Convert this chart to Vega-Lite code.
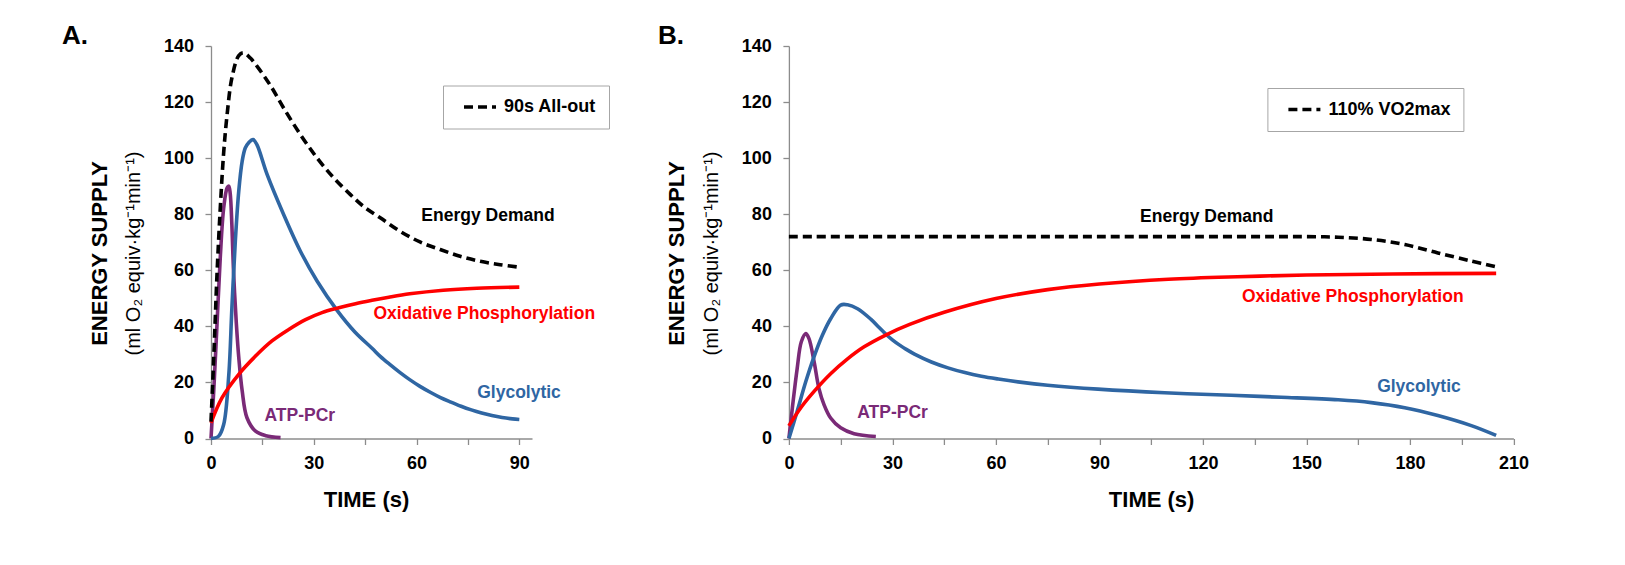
{
  "$schema": "https://vega.github.io/schema/vega-lite/v6.json",
  "background": "white",
  "padding": {"left": 62, "top": 22, "right": 10, "bottom": 10},
  "spacing": 47.9,
  "resolve": {"scale": {"strokeDash": "independent", "color": "shared"}, "legend": {"strokeDash": "independent"}},
  "config": {
    "view": {"stroke": null},
    "font": "Liberation Sans",
    "axis": {
      "labelFont": "Liberation Sans", "titleFont": "Liberation Sans",
      "domainColor": "#8c8c8c", "tickColor": "#8c8c8c", "domainWidth": 1.3, "tickWidth": 1.3,
      "grid": false, "labelColor": "black", "titleColor": "black",
      "labelFontWeight": "bold", "labelFontSize": 18, "tickSize": 6
    },
    "legend": {
      "labelFont": "Liberation Sans", "labelFontSize": 18, "labelFontWeight": "bold", "labelColor": "black",
      "strokeColor": "#a6a6a6", "fillColor": "white", "padding": 12.5, "clipHeight": 18, "symbolOffset": 6.5, "symbolType": "stroke",
      "symbolSize": 1024, "symbolStrokeWidth": 3.5, "symbolStrokeColor": "black", "labelOffset": 6, "orient": "none"
    },
    "title": {"font": "Liberation Sans", "fontSize": 26, "fontWeight": "bold", "color": "black", "anchor": "start", "frame": "group", "baseline": "alphabetic", "offset": -11.5}
  },
  "datasets": {
    "supplyA": [
      {"source": "ATP-PCr", "t": 0, "v": 0}, {"source": "ATP-PCr", "t": 0.8, "v": 17}, {"source": "ATP-PCr", "t": 1.75, "v": 40.6},
      {"source": "ATP-PCr", "t": 2.7, "v": 64.4}, {"source": "ATP-PCr", "t": 3.7, "v": 82.2}, {"source": "ATP-PCr", "t": 4.7, "v": 89.4},
      {"source": "ATP-PCr", "t": 5.2, "v": 90}, {"source": "ATP-PCr", "t": 5.6, "v": 87.5}, {"source": "ATP-PCr", "t": 6.1, "v": 76},
      {"source": "ATP-PCr", "t": 6.6, "v": 59}, {"source": "ATP-PCr", "t": 7.4, "v": 41}, {"source": "ATP-PCr", "t": 8.1, "v": 29},
      {"source": "ATP-PCr", "t": 9.1, "v": 17}, {"source": "ATP-PCr", "t": 10.5, "v": 7.4}, {"source": "ATP-PCr", "t": 13, "v": 2.6},
      {"source": "ATP-PCr", "t": 16, "v": 1}, {"source": "ATP-PCr", "t": 20.3, "v": 0.3},
      {"source": "Glycolytic", "t": 0, "v": 0}, {"source": "Glycolytic", "t": 2.2, "v": 0.8}, {"source": "Glycolytic", "t": 3.7, "v": 5},
      {"source": "Glycolytic", "t": 5.2, "v": 22.8}, {"source": "Glycolytic", "t": 6.1, "v": 46.6}, {"source": "Glycolytic", "t": 7.1, "v": 70.4},
      {"source": "Glycolytic", "t": 8.1, "v": 88.2}, {"source": "Glycolytic", "t": 9.1, "v": 98.9}, {"source": "Glycolytic", "t": 10, "v": 103.6},
      {"source": "Glycolytic", "t": 11, "v": 105.5}, {"source": "Glycolytic", "t": 12.3, "v": 106.6}, {"source": "Glycolytic", "t": 13.4, "v": 104.8},
      {"source": "Glycolytic", "t": 16.4, "v": 94.1}, {"source": "Glycolytic", "t": 21.2, "v": 79.9}, {"source": "Glycolytic", "t": 26.1, "v": 66.8},
      {"source": "Glycolytic", "t": 31, "v": 56.1}, {"source": "Glycolytic", "t": 36.8, "v": 45.7}, {"source": "Glycolytic", "t": 42, "v": 38},
      {"source": "Glycolytic", "t": 47, "v": 32.2}, {"source": "Glycolytic", "t": 49.4, "v": 29.3}, {"source": "Glycolytic", "t": 52, "v": 26.6},
      {"source": "Glycolytic", "t": 55.2, "v": 23.5}, {"source": "Glycolytic", "t": 58, "v": 21}, {"source": "Glycolytic", "t": 61, "v": 18.6},
      {"source": "Glycolytic", "t": 64, "v": 16.5}, {"source": "Glycolytic", "t": 67, "v": 14.6}, {"source": "Glycolytic", "t": 70, "v": 13},
      {"source": "Glycolytic", "t": 73, "v": 11.5}, {"source": "Glycolytic", "t": 76, "v": 10.2}, {"source": "Glycolytic", "t": 79, "v": 9.1},
      {"source": "Glycolytic", "t": 82, "v": 8.2}, {"source": "Glycolytic", "t": 85, "v": 7.5}, {"source": "Glycolytic", "t": 88, "v": 7},
      {"source": "Glycolytic", "t": 90, "v": 6.8},
      {"source": "Oxidative Phosphorylation", "t": 0, "v": 5.6}, {"source": "Oxidative Phosphorylation", "t": 3.2, "v": 14.5},
      {"source": "Oxidative Phosphorylation", "t": 8.1, "v": 22.9}, {"source": "Oxidative Phosphorylation", "t": 13, "v": 29.4},
      {"source": "Oxidative Phosphorylation", "t": 17.8, "v": 34.8}, {"source": "Oxidative Phosphorylation", "t": 22.7, "v": 38.9},
      {"source": "Oxidative Phosphorylation", "t": 27.6, "v": 42.4}, {"source": "Oxidative Phosphorylation", "t": 32.4, "v": 44.9},
      {"source": "Oxidative Phosphorylation", "t": 37.3, "v": 46.6}, {"source": "Oxidative Phosphorylation", "t": 42.2, "v": 48.1},
      {"source": "Oxidative Phosphorylation", "t": 47, "v": 49.3}, {"source": "Oxidative Phosphorylation", "t": 51.9, "v": 50.4},
      {"source": "Oxidative Phosphorylation", "t": 58, "v": 51.6}, {"source": "Oxidative Phosphorylation", "t": 67.8, "v": 52.9},
      {"source": "Oxidative Phosphorylation", "t": 77.6, "v": 53.6}, {"source": "Oxidative Phosphorylation", "t": 90, "v": 54}
    ],
    "demandA": [
      {"condition": "90s All-out", "t": 0, "v": 6}, {"condition": "90s All-out", "t": 0.8, "v": 28.8}, {"condition": "90s All-out", "t": 1.75, "v": 58.5},
      {"condition": "90s All-out", "t": 2.7, "v": 82}, {"condition": "90s All-out", "t": 3.7, "v": 102}, {"condition": "90s All-out", "t": 4.7, "v": 115.5},
      {"condition": "90s All-out", "t": 6.1, "v": 128.6}, {"condition": "90s All-out", "t": 8.1, "v": 136.6}, {"condition": "90s All-out", "t": 9.5, "v": 137.6},
      {"condition": "90s All-out", "t": 11.5, "v": 135.7}, {"condition": "90s All-out", "t": 13.9, "v": 132}, {"condition": "90s All-out", "t": 17.3, "v": 126},
      {"condition": "90s All-out", "t": 21.2, "v": 117.9}, {"condition": "90s All-out", "t": 26.1, "v": 108.4}, {"condition": "90s All-out", "t": 31, "v": 100},
      {"condition": "90s All-out", "t": 35.8, "v": 93}, {"condition": "90s All-out", "t": 40.7, "v": 87}, {"condition": "90s All-out", "t": 44.5, "v": 82.8},
      {"condition": "90s All-out", "t": 49.4, "v": 78.7}, {"condition": "90s All-out", "t": 55.2, "v": 73.9}, {"condition": "90s All-out", "t": 61, "v": 70.1},
      {"condition": "90s All-out", "t": 66.9, "v": 67.4}, {"condition": "90s All-out", "t": 72.7, "v": 65}, {"condition": "90s All-out", "t": 78.6, "v": 63.2},
      {"condition": "90s All-out", "t": 84.4, "v": 62}, {"condition": "90s All-out", "t": 90, "v": 61.1}
    ],
    "labelsA": [
      {"label": "Energy Demand", "t": 61.4, "v": 79.2},
      {"label": "Oxidative Phosphorylation", "t": 47.4, "v": 44.3},
      {"label": "Glycolytic", "t": 77.7, "v": 16.3},
      {"label": "ATP-PCr", "t": 15.6, "v": 8.1}
    ],
    "supplyB": [
      {"source": "ATP-PCr", "t": 0, "v": 0}, {"source": "ATP-PCr", "t": 1, "v": 10.9}, {"source": "ATP-PCr", "t": 2.4, "v": 25},
      {"source": "ATP-PCr", "t": 3.6, "v": 34.5}, {"source": "ATP-PCr", "t": 4.9, "v": 37.4}, {"source": "ATP-PCr", "t": 5.8, "v": 35.7},
      {"source": "ATP-PCr", "t": 7.3, "v": 27.4}, {"source": "ATP-PCr", "t": 8.7, "v": 17.9}, {"source": "ATP-PCr", "t": 10.2, "v": 12},
      {"source": "ATP-PCr", "t": 12.1, "v": 7.3}, {"source": "ATP-PCr", "t": 15, "v": 3.8}, {"source": "ATP-PCr", "t": 18.9, "v": 1.7},
      {"source": "ATP-PCr", "t": 25.2, "v": 0.7},
      {"source": "Glycolytic", "t": 0, "v": 0}, {"source": "Glycolytic", "t": 2.4, "v": 9.7}, {"source": "Glycolytic", "t": 4.9, "v": 20.3},
      {"source": "Glycolytic", "t": 7.3, "v": 29.2}, {"source": "Glycolytic", "t": 9.7, "v": 36.8}, {"source": "Glycolytic", "t": 12.1, "v": 42.7},
      {"source": "Glycolytic", "t": 15, "v": 47.6}, {"source": "Glycolytic", "t": 17, "v": 47.7}, {"source": "Glycolytic", "t": 19.9, "v": 46.3},
      {"source": "Glycolytic", "t": 23.8, "v": 42.5}, {"source": "Glycolytic", "t": 26, "v": 39.8}, {"source": "Glycolytic", "t": 28.2, "v": 37.1},
      {"source": "Glycolytic", "t": 30, "v": 35.2}, {"source": "Glycolytic", "t": 32, "v": 33.4}, {"source": "Glycolytic", "t": 34, "v": 31.8},
      {"source": "Glycolytic", "t": 36.4, "v": 30.1}, {"source": "Glycolytic", "t": 41.3, "v": 27.3}, {"source": "Glycolytic", "t": 46.1, "v": 25.2},
      {"source": "Glycolytic", "t": 51, "v": 23.5}, {"source": "Glycolytic", "t": 55.8, "v": 22.2}, {"source": "Glycolytic", "t": 60.7, "v": 21.2},
      {"source": "Glycolytic", "t": 67, "v": 20.1}, {"source": "Glycolytic", "t": 75, "v": 19}, {"source": "Glycolytic", "t": 89.6, "v": 17.6},
      {"source": "Glycolytic", "t": 108.9, "v": 16.3}, {"source": "Glycolytic", "t": 128.2, "v": 15.4}, {"source": "Glycolytic", "t": 142.7, "v": 14.7},
      {"source": "Glycolytic", "t": 159.2, "v": 13.8}, {"source": "Glycolytic", "t": 168.8, "v": 12.8}, {"source": "Glycolytic", "t": 178.5, "v": 11},
      {"source": "Glycolytic", "t": 188.1, "v": 8.2}, {"source": "Glycolytic", "t": 197.8, "v": 4.6}, {"source": "Glycolytic", "t": 205, "v": 1.1},
      {"source": "Oxidative Phosphorylation", "t": 0, "v": 4.5}, {"source": "Oxidative Phosphorylation", "t": 3.4, "v": 10.9},
      {"source": "Oxidative Phosphorylation", "t": 7.3, "v": 16.8}, {"source": "Oxidative Phosphorylation", "t": 12.1, "v": 23.1},
      {"source": "Oxidative Phosphorylation", "t": 17, "v": 28.4}, {"source": "Oxidative Phosphorylation", "t": 21.8, "v": 32.7},
      {"source": "Oxidative Phosphorylation", "t": 28.2, "v": 37}, {"source": "Oxidative Phosphorylation", "t": 35, "v": 40.7},
      {"source": "Oxidative Phosphorylation", "t": 45, "v": 45}, {"source": "Oxidative Phosphorylation", "t": 60, "v": 49.9},
      {"source": "Oxidative Phosphorylation", "t": 75, "v": 53.1}, {"source": "Oxidative Phosphorylation", "t": 90, "v": 55.1},
      {"source": "Oxidative Phosphorylation", "t": 110, "v": 56.8}, {"source": "Oxidative Phosphorylation", "t": 130, "v": 57.7},
      {"source": "Oxidative Phosphorylation", "t": 150, "v": 58.3}, {"source": "Oxidative Phosphorylation", "t": 175, "v": 58.7},
      {"source": "Oxidative Phosphorylation", "t": 205, "v": 58.9}
    ],
    "demandB": [
      {"condition": "110% VO2max", "t": 0, "v": 72}, {"condition": "110% VO2max", "t": 30, "v": 72}, {"condition": "110% VO2max", "t": 60, "v": 72},
      {"condition": "110% VO2max", "t": 90, "v": 72}, {"condition": "110% VO2max", "t": 120, "v": 72}, {"condition": "110% VO2max", "t": 139.8, "v": 72},
      {"condition": "110% VO2max", "t": 150, "v": 72}, {"condition": "110% VO2max", "t": 159.2, "v": 71.8}, {"condition": "110% VO2max", "t": 168.8, "v": 71},
      {"condition": "110% VO2max", "t": 178.5, "v": 69.2}, {"condition": "110% VO2max", "t": 188.1, "v": 66.2}, {"condition": "110% VO2max", "t": 197.8, "v": 63.3},
      {"condition": "110% VO2max", "t": 205, "v": 61.2}
    ],
    "labelsB": [
      {"label": "Energy Demand", "t": 101.8, "v": 79},
      {"label": "Oxidative Phosphorylation", "t": 131.3, "v": 50.3},
      {"label": "Glycolytic", "t": 170.5, "v": 18.5},
      {"label": "ATP-PCr", "t": 19.8, "v": 9.2}
    ]
  },
  "hconcat": [
    {
      "title": {"text": "A.", "dx": -149},
      "width": 321,
      "height": 392.5,
      "layer": [
        {
          "data": {"name": "supplyA"},
          "mark": {"type": "line", "strokeWidth": 3.6, "interpolate": "catmull-rom"},
          "encoding": {
            "x": {"field": "t", "type": "quantitative",
              "scale": {"domain": [0, 93.7], "nice": false, "zero": false},
              "axis": {"values": [0, 15, 30, 45, 60, 75, 90], "labelExpr": "datum.value % 30 === 0 ? datum.label : ''",
                "title": "TIME (s)", "titleFontSize": 22, "titleFontWeight": "bold", "titlePadding": 16.5, "titleX": 155,
                "labelPadding": 10, "labelFlush": false, "labelOverlap": false}},
            "y": {"field": "v", "type": "quantitative",
              "scale": {"domain": [0, 140], "nice": false},
              "axis": {"orient": "left", "values": [0, 20, 40, 60, 80, 100, 120, 140], "title": "(ml O₂ equiv·kg⁻¹min⁻¹)",
                "titleFontWeight": "normal", "titleFontSize": 20, "titlePadding": 20, "titleY": 207, "labelPadding": 11.5, "minExtent": 0}},
            "color": {"field": "source", "type": "nominal",
              "scale": {"domain": ["ATP-PCr", "Glycolytic", "Oxidative Phosphorylation", "Energy Demand"], "range": ["#7a2a77", "#2f66a3", "#ff0000", "#000000"]},
              "legend": null}
          }
        },
        {
          "data": {"name": "demandA"},
          "mark": {"type": "line", "strokeWidth": 3.6, "color": "black", "interpolate": "catmull-rom"},
          "encoding": {
            "x": {"field": "t", "type": "quantitative"},
            "y": {"field": "v", "type": "quantitative",
              "axis": {"orient": "left", "labels": false, "ticks": false, "domain": false, "title": "ENERGY SUPPLY",
                "titleFontSize": 22, "titleFontWeight": "bold", "titlePadding": 100, "titleY": 207, "minExtent": 0}},
            "strokeDash": {"field": "condition", "type": "nominal",
              "scale": {"domain": ["90s All-out"], "range": [[9, 5]]},
              "legend": {"title": null, "legendX": 232, "legendY": 39.5}}
          }
        },
        {
          "data": {"name": "labelsA"},
          "mark": {"type": "text", "align": "left", "baseline": "middle", "fontSize": 17.5, "fontWeight": "bold", "font": "Liberation Sans"},
          "encoding": {
            "x": {"field": "t", "type": "quantitative"},
            "y": {"field": "v", "type": "quantitative", "axis": null},
            "text": {"field": "label"},
            "color": {"field": "label", "type": "nominal", "legend": null}
          }
        }
      ],
      "resolve": {"axis": {"y": "independent"}}
    },
    {
      "title": {"text": "B.", "dx": -131},
      "width": 724.5,
      "height": 392.5,
      "layer": [
        {
          "data": {"name": "supplyB"},
          "mark": {"type": "line", "strokeWidth": 3.6, "interpolate": "catmull-rom"},
          "encoding": {
            "x": {"field": "t", "type": "quantitative",
              "scale": {"domain": [0, 210], "nice": false, "zero": false},
              "axis": {"values": [0, 15, 30, 45, 60, 75, 90, 105, 120, 135, 150, 165, 180, 195, 210], "labelExpr": "datum.value % 30 === 0 ? datum.label : ''",
                "title": "TIME (s)", "titleFontSize": 22, "titleFontWeight": "bold", "titlePadding": 16.5,
                "labelPadding": 10, "labelFlush": false, "labelOverlap": false}},
            "y": {"field": "v", "type": "quantitative",
              "scale": {"domain": [0, 140], "nice": false},
              "axis": {"orient": "left", "values": [0, 20, 40, 60, 80, 100, 120, 140], "title": "(ml O₂ equiv·kg⁻¹min⁻¹)",
                "titleFontWeight": "normal", "titleFontSize": 20, "titlePadding": 20, "titleY": 207, "labelPadding": 11.5, "minExtent": 0}},
            "color": {"field": "source", "type": "nominal",
              "scale": {"domain": ["ATP-PCr", "Glycolytic", "Oxidative Phosphorylation", "Energy Demand"], "range": ["#7a2a77", "#2f66a3", "#ff0000", "#000000"]},
              "legend": null}
          }
        },
        {
          "data": {"name": "demandB"},
          "mark": {"type": "line", "strokeWidth": 3.6, "color": "black", "interpolate": "catmull-rom"},
          "encoding": {
            "x": {"field": "t", "type": "quantitative"},
            "y": {"field": "v", "type": "quantitative",
              "axis": {"orient": "left", "labels": false, "ticks": false, "domain": false, "title": "ENERGY SUPPLY",
                "titleFontSize": 22, "titleFontWeight": "bold", "titlePadding": 100, "titleY": 207, "minExtent": 0}},
            "strokeDash": {"field": "condition", "type": "nominal",
              "scale": {"domain": ["110% VO2max"], "range": [[9, 5]]},
              "legend": {"title": null, "legendX": 478.5, "legendY": 42}}
          }
        },
        {
          "data": {"name": "labelsB"},
          "mark": {"type": "text", "align": "left", "baseline": "middle", "fontSize": 17.5, "fontWeight": "bold", "font": "Liberation Sans"},
          "encoding": {
            "x": {"field": "t", "type": "quantitative"},
            "y": {"field": "v", "type": "quantitative", "axis": null},
            "text": {"field": "label"},
            "color": {"field": "label", "type": "nominal", "legend": null}
          }
        }
      ],
      "resolve": {"axis": {"y": "independent"}}
    }
  ]
}
